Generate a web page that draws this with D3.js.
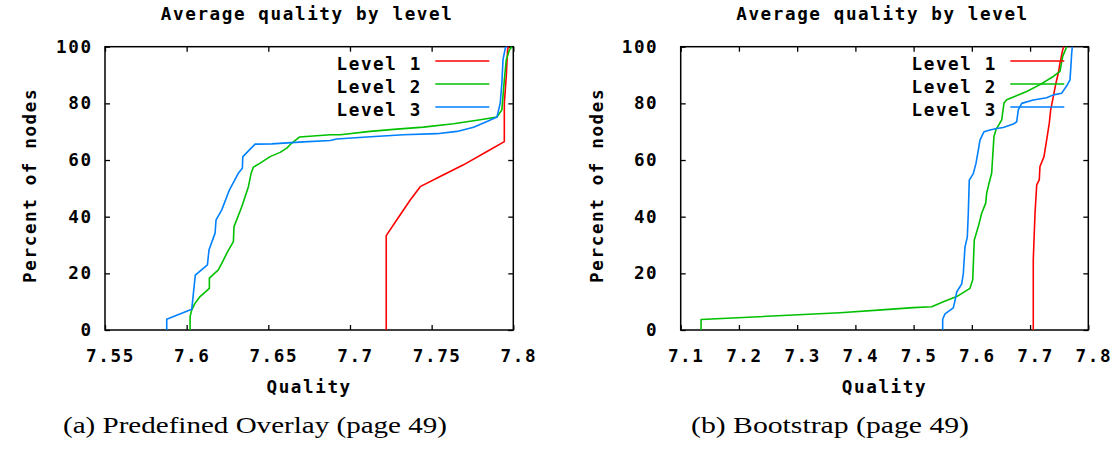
<!DOCTYPE html>
<html>
<head>
<meta charset="utf-8">
<script src="https://cdn.jsdelivr.net/npm/d3@7"></script>
<style>
  body { margin: 0; background: #fff; }
  svg { display: block; }
</style>
</head>
<body>
<svg id="chart" width="1120" height="450"></svg>
<script>
// Series labels and colours (gnuplot default line types 1-3)
const levelNames = ["Level 1", "Level 2", "Level 3"];
const levelColors = ["#ff0000", "#00c000", "#0080ff"];

// Axis ticks
const percentTicks = [0, 20, 40, 60, 80, 100];
const percentTickLabels = ["0", "20", "40", "60", "80", "100"];
const overlayTicks = [7.55, 7.6, 7.65, 7.7, 7.75, 7.8];
const overlayTickLabels = ["7.55", "7.6", "7.65", "7.7", "7.75", "7.8"];
const bootstrapTicks = [7.1, 7.2, 7.3, 7.4, 7.5, 7.6, 7.7, 7.8];
const bootstrapTickLabels = ["7.1", "7.2", "7.3", "7.4", "7.5", "7.6", "7.7", "7.8"];

// (a) Predefined Overlay: [quality, percent of nodes]
const overlayLevel1 = [
  [7.7222, 0], [7.7222, 33.3], [7.7287, 38.9], [7.7369, 45.9], [7.7430, 50.6],
  [7.7552, 54.2], [7.7695, 58.3], [7.7839, 63.0], [7.7945, 66.5], [7.7945, 80.1],
  [7.7957, 89.5], [7.7965, 98.9], [7.7971, 100]
];
const overlayLevel2 = [
  [7.6021, 0], [7.6021, 4.7], [7.6031, 7.1], [7.6051, 9.4], [7.6082, 11.8],
  [7.6139, 14.7], [7.6139, 18.3], [7.6194, 21.2], [7.6225, 24.7], [7.6246, 27.1],
  [7.6286, 31.2], [7.6290, 36.5], [7.6338, 43.6], [7.6378, 50.6], [7.6395, 55.4],
  [7.6409, 57.5], [7.6450, 58.9], [7.6511, 61.2], [7.6572, 62.7], [7.6613, 64.2],
  [7.6644, 66.0], [7.6690, 68.1], [7.6880, 68.9], [7.6940, 68.9], [7.7124, 70.1],
  [7.7287, 70.9], [7.7450, 71.6], [7.7634, 72.8], [7.7798, 74.2], [7.7900, 75.2],
  [7.7930, 77.7], [7.7945, 88.3], [7.7957, 95.4], [7.7977, 98.9], [7.7992, 100]
];
const overlayLevel3 = [
  [7.5878, 0], [7.5878, 3.8], [7.5943, 5.3], [7.6031, 7.3], [7.6053, 19.4],
  [7.6127, 23.0], [7.6137, 28.3], [7.6174, 34.2], [7.6180, 38.9], [7.6215, 42.4],
  [7.6262, 49.5], [7.6317, 55.4], [7.6341, 57.1], [7.6344, 61.2], [7.6419, 65.6],
  [7.6521, 65.7], [7.6715, 66.4], [7.6879, 66.9], [7.6918, 67.4], [7.7103, 68.1],
  [7.7327, 68.9], [7.7532, 69.3], [7.7655, 70.1], [7.7757, 71.6], [7.7839, 73.6],
  [7.7900, 75.2], [7.7920, 80.1], [7.7930, 87.2], [7.7937, 95.4], [7.7951, 99.5],
  [7.7961, 100]
];

// (b) Bootstrap: [quality, percent of nodes]
const bootstrapLevel1 = [
  [7.7055, 0], [7.7055, 24.7], [7.7085, 41.2], [7.7114, 51.2], [7.7158, 53.0],
  [7.7170, 57.7], [7.7239, 61.2], [7.7285, 67.1], [7.7330, 73.0], [7.7354, 77.7],
  [7.7399, 82.4], [7.7445, 87.2], [7.7485, 90.7], [7.7514, 94.2], [7.7560, 98.9],
  [7.7582, 100]
];
const bootstrapLevel2 = [
  [7.1350, 0], [7.1350, 3.7], [7.3736, 6.1], [7.4452, 7.1], [7.4995, 7.9],
  [7.5311, 8.2], [7.5510, 10.0], [7.5740, 11.8], [7.5968, 14.7], [7.6015, 17.7],
  [7.6042, 31.8], [7.6111, 36.5], [7.6169, 41.2], [7.6238, 44.8], [7.6255, 48.3],
  [7.6295, 51.8], [7.6341, 55.4], [7.6358, 61.2], [7.6380, 68.3], [7.6415, 70.7],
  [7.6513, 74.2], [7.6552, 80.1], [7.6599, 81.3], [7.6942, 84.2], [7.7171, 86.6],
  [7.7399, 89.5], [7.7514, 91.3], [7.7560, 96.6], [7.7629, 100]
];
const bootstrapLevel3 = [
  [7.5499, 0], [7.5499, 3.8], [7.5539, 5.7], [7.5681, 7.8], [7.5711, 10.4],
  [7.5740, 13.4], [7.5826, 16.3], [7.5853, 19.8], [7.5882, 29.3], [7.5922, 32.8],
  [7.5939, 41.1], [7.5956, 52.9], [7.6025, 55.2], [7.6071, 58.8], [7.6111, 63.5],
  [7.6140, 67.0], [7.6209, 70.0], [7.6312, 70.6], [7.6427, 71.1], [7.6540, 71.5],
  [7.6712, 72.7], [7.6770, 73.5], [7.6798, 77.7], [7.6856, 80.0], [7.7055, 81.2],
  [7.7285, 82.0], [7.7399, 83.0], [7.7543, 83.6], [7.7639, 86.5], [7.7686, 88.3],
  [7.7715, 97.7], [7.7725, 100]
];

const panels = [
  {
    title: "Average quality by level",
    caption: "(a) Predefined Overlay (page 49)",
    left: 105, right: 513.3,
    domain: [7.55, 7.8],
    ticks: overlayTicks, tickLabels: overlayTickLabels,
    series: [overlayLevel1, overlayLevel2, overlayLevel3],
    yLabelGap: 14, yTitleGap: 69.5,
    captionX: 255, captionWidth: 384
  },
  {
    title: "Average quality by level",
    caption: "(b) Bootstrap (page 49)",
    left: 680.7, right: 1088.3,
    domain: [7.1, 7.8],
    ticks: bootstrapTicks, tickLabels: bootstrapTickLabels,
    series: [bootstrapLevel1, bootstrapLevel2, bootstrapLevel3],
    yLabelGap: 24, yTitleGap: 78,
    captionX: 830, captionWidth: 278
  }
];

const TOP = 46.7, BOTTOM = 330;
const TICK = 5;
const monoFont = "'DejaVu Sans Mono', 'Liberation Mono', monospace";
const SPACING = 1.6;

const svg = d3.select("#chart");

function monoText(sel) {
  return sel.attr("font-family", monoFont)
    .attr("font-weight", "bold")
    .attr("font-size", 17.6)
    .attr("letter-spacing", SPACING)
    .attr("fill", "#000");
}

panels.forEach(p => {
  const g = svg.append("g");
  const x = d3.scaleLinear().domain(p.domain).range([p.left, p.right]);
  const y = d3.scaleLinear().domain([0, 100]).range([BOTTOM, TOP]);

  // Inward ticks on all four sides
  const fmtX = (d, i) => p.tickLabels[i];
  const fmtY = (d, i) => percentTickLabels[i];

  const bottomAxis = g.append("g").attr("transform", `translate(0,${BOTTOM})`)
    .call(d3.axisBottom(x).tickValues(p.ticks).tickFormat(fmtX).tickSize(-TICK).tickSizeOuter(0));
  const topAxis = g.append("g").attr("transform", `translate(0,${TOP})`)
    .call(d3.axisTop(x).tickValues(p.ticks).tickFormat("").tickSize(-TICK).tickSizeOuter(0));
  const leftAxis = g.append("g").attr("transform", `translate(${p.left},0)`)
    .call(d3.axisLeft(y).tickValues(percentTicks).tickFormat(fmtY).tickSize(-TICK).tickSizeOuter(0));
  const rightAxis = g.append("g").attr("transform", `translate(${p.right},0)`)
    .call(d3.axisRight(y).tickValues(percentTicks).tickFormat("").tickSize(-TICK).tickSizeOuter(0));

  [bottomAxis, topAxis, leftAxis, rightAxis].forEach(a => {
    a.select(".domain").remove();
    a.selectAll(".tick line").attr("stroke", "#000").attr("stroke-width", 1.3);
  });

  bottomAxis.selectAll(".tick text")
    .call(monoText)
    .attr("y", 0).attr("dy", 0)
    .attr("transform", "translate(5,32)")
    .attr("text-anchor", "middle");
  leftAxis.selectAll(".tick text")
    .call(monoText)
    .attr("x", 0).attr("dy", 0)
    .attr("transform", `translate(${-p.yLabelGap + SPACING},5.5)`)
    .attr("text-anchor", "end");
  topAxis.selectAll(".tick text").remove();
  rightAxis.selectAll(".tick text").remove();

  // Plot frame
  g.append("rect")
    .attr("x", p.left).attr("y", TOP)
    .attr("width", p.right - p.left).attr("height", BOTTOM - TOP)
    .attr("fill", "none").attr("stroke", "#000").attr("stroke-width", 1.5);

  // Series lines
  const line = d3.line().x(d => x(d[0])).y(d => y(d[1]));
  const clipId = "clip" + Math.round(p.left);
  g.append("clipPath").attr("id", clipId).append("rect")
    .attr("x", p.left).attr("y", TOP - 1)
    .attr("width", p.right - p.left + 1).attr("height", BOTTOM - TOP + 1);
  p.series.forEach((s, i) => {
    g.append("path")
      .datum(s)
      .attr("clip-path", `url(#${clipId})`)
      .attr("d", line)
      .attr("fill", "none")
      .attr("stroke", levelColors[i])
      .attr("stroke-width", 1.6)
      .attr("stroke-linejoin", "round");
  });

  // Legend (top right, inside the frame)
  levelNames.forEach((name, i) => {
    const rowY = 61 + i * 23;
    g.append("text")
      .call(monoText)
      .attr("x", p.right - 93 + SPACING)
      .attr("y", rowY + 9)
      .attr("text-anchor", "end")
      .text(name);
    g.append("line")
      .attr("x1", p.right - 78).attr("x2", p.right - 24)
      .attr("y1", rowY).attr("y2", rowY)
      .attr("stroke", levelColors[i]).attr("stroke-width", 1.6);
  });

  const cx = (p.left + p.right) / 2;

  // Title
  g.append("text").call(monoText)
    .attr("x", cx - 2).attr("y", 20)
    .attr("text-anchor", "middle")
    .text(p.title);

  // Axis titles
  g.append("text").call(monoText)
    .attr("x", cx).attr("y", 393)
    .attr("text-anchor", "middle")
    .text("Quality");
  g.append("text").call(monoText)
    .attr("transform", `translate(${p.left - p.yTitleGap},${(TOP + BOTTOM) / 2 - 3}) rotate(-90)`)
    .attr("text-anchor", "middle")
    .text("Percent of nodes");

  // Sub-figure caption
  g.append("text")
    .attr("x", p.captionX - p.captionWidth / 2).attr("y", 433)
    .attr("font-family", "'Liberation Serif', 'DejaVu Serif', serif")
    .attr("font-size", 24)
    .attr("fill", "#000")
    .attr("textLength", p.captionWidth)
    .attr("lengthAdjust", "spacingAndGlyphs")
    .text(p.caption);
});
</script>
</body>
</html>
